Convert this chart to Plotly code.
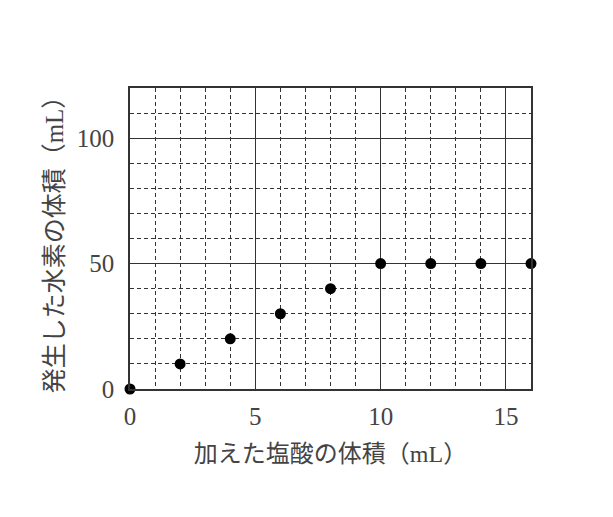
import plotly.graph_objects as go

# 加えた塩酸の体積 (mL) と 発生した水素の体積 (mL)
hcl_ml = [0, 2, 4, 6, 8, 10, 12, 14, 16]
h2_ml = [0, 10, 20, 30, 40, 50, 50, 50, 50]

x_ticks = [0, 5, 10, 15]
y_ticks = [0, 50, 100]

font_fam = "Liberation Serif, Noto Sans CJK JP, serif"

fig = go.Figure()
fig.add_trace(go.Scatter(
    x=hcl_ml, y=h2_ml, mode="markers",
    marker=dict(color="black", size=11),
    cliponaxis=False, showlegend=False,
))

fig.update_xaxes(
    range=[0, 16], tickvals=x_ticks, ticktext=[str(v) for v in x_ticks],
    showgrid=True, gridcolor="#333", gridwidth=1.2,
    minor=dict(dtick=1, tick0=0, showgrid=True, gridcolor="#333",
               griddash="4px,3px", gridwidth=1, ticks=""),
    showline=True, linecolor="#333", linewidth=1.6, mirror=True,
    zeroline=False, ticks="", ticklabelstandoff=4,
    tickfont=dict(family=font_fam, size=25, color="#444"),
    title=dict(text="加えた塩酸の体積（mL）", standoff=16,
               font=dict(family=font_fam, size=24, color="#444")),
)
fig.update_yaxes(
    range=[0, 120], tickvals=y_ticks, ticktext=[str(v) for v in y_ticks],
    showgrid=True, gridcolor="#333", gridwidth=1.2,
    minor=dict(dtick=10, tick0=0, showgrid=True, gridcolor="#333",
               griddash="4px,3px", gridwidth=1, ticks=""),
    showline=True, linecolor="#333", linewidth=1.6, mirror=True,
    zeroline=False, ticks="", ticklabelstandoff=9,
    tickfont=dict(family=font_fam, size=25, color="#444"),
    title=dict(text="発生した水素の体積（mL）", standoff=6,
               font=dict(family=font_fam, size=25, color="#444")),
)

fig.update_layout(
    width=613, height=517,
    margin=dict(l=122, r=90, t=80, b=136),
    plot_bgcolor="white", paper_bgcolor="white",
)

fig.write_html("out.html")
